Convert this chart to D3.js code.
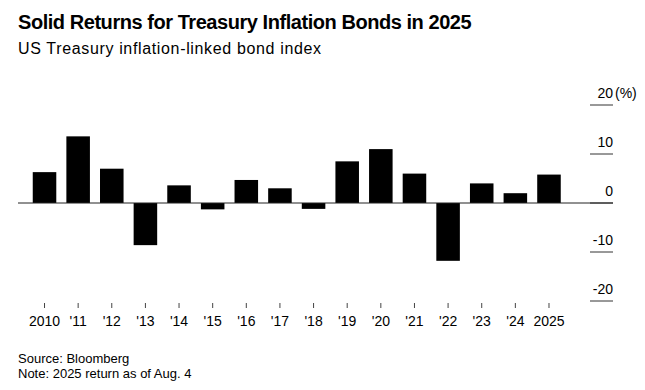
<!DOCTYPE html>
<html>
<head>
<meta charset="utf-8">
<script src="https://cdn.jsdelivr.net/npm/d3@7"></script>
<style>
  html, body { margin: 0; padding: 0; background: #fff; }
  svg { display: block; font-family: "Liberation Sans", Arial, sans-serif; }
</style>
</head>
<body>
<svg id="chart" width="645" height="390"></svg>
<script>
const years = ["2010","2011","2012","2013","2014","2015","2016","2017","2018","2019","2020","2021","2022","2023","2024","2025"];
const yearLabels = ["2010","'11","'12","'13","'14","'15","'16","'17","'18","'19","'20","'21","'22","'23","'24","2025"];
const returns = [6.3, 13.6, 7.0, -8.6, 3.6, -1.3, 4.7, 3.0, -1.2, 8.5, 11.0, 6.0, -11.8, 4.0, 2.0, 5.8];
const yTicks = [20, 10, 0, -10, -20];

const svg = d3.select("#chart");

svg.append("text").attr("x", 18).attr("y", 29)
  .attr("font-size", 20).attr("font-weight", "bold").attr("fill", "#000")
  .attr("letter-spacing", -0.45)
  .text("Solid Returns for Treasury Inflation Bonds in 2025");
svg.append("text").attr("x", 18).attr("y", 54)
  .attr("font-size", 16).attr("fill", "#000")
  .attr("letter-spacing", 0.65)
  .text("US Treasury inflation-linked bond index");

const x = d3.scaleBand().domain(years).range([27.7, 565.8]).paddingInner(0.3).paddingOuter(0.15);
const y = d3.scaleLinear().domain([-20, 20]).range([301, 105]);

// y axis (right side, ticks as short lines with labels above)
const yAxis = svg.append("g");
yTicks.forEach(t => {
  yAxis.append("line").attr("x1", 590).attr("x2", 613)
    .attr("y1", y(t)).attr("y2", y(t))
    .attr("stroke", "#333").attr("stroke-width", 1);
  yAxis.append("text").attr("x", 613).attr("y", y(t) - 7.5)
    .attr("text-anchor", "end").attr("font-size", 14).attr("fill", "#000")
    .text(t);
});
yAxis.append("text").attr("x", 615).attr("y", y(20) - 7.5)
  .attr("font-size", 14).attr("fill", "#000").text("(%)");

// bars
svg.append("g").selectAll("rect").data(returns).join("rect")
  .attr("x", (d, i) => x(years[i]))
  .attr("width", x.bandwidth())
  .attr("y", d => y(Math.max(0, d)))
  .attr("height", d => Math.abs(y(d) - y(0)))
  .attr("fill", "#000");

// zero line
svg.append("line").attr("x1", 18).attr("x2", 613)
  .attr("y1", y(0)).attr("y2", y(0))
  .attr("stroke", "#222").attr("stroke-width", 1);

// x axis
const xAxis = svg.append("g");
years.forEach((yr, i) => {
  const cx = x(yr) + x.bandwidth() / 2;
  xAxis.append("line").attr("x1", cx).attr("x2", cx).attr("y1", 303).attr("y2", 308)
    .attr("stroke", "#444").attr("stroke-width", 1);
  xAxis.append("text").attr("x", cx).attr("y", 326)
    .attr("text-anchor", "middle").attr("font-size", 14).attr("fill", "#000")
    .text(yearLabels[i]);
});

svg.append("text").attr("x", 18).attr("y", 363)
  .attr("font-size", 13).attr("fill", "#000").text("Source: Bloomberg");
svg.append("text").attr("x", 18).attr("y", 377.5)
  .attr("font-size", 13).attr("fill", "#000").text("Note: 2025 return as of Aug. 4");
</script>
</body>
</html>
